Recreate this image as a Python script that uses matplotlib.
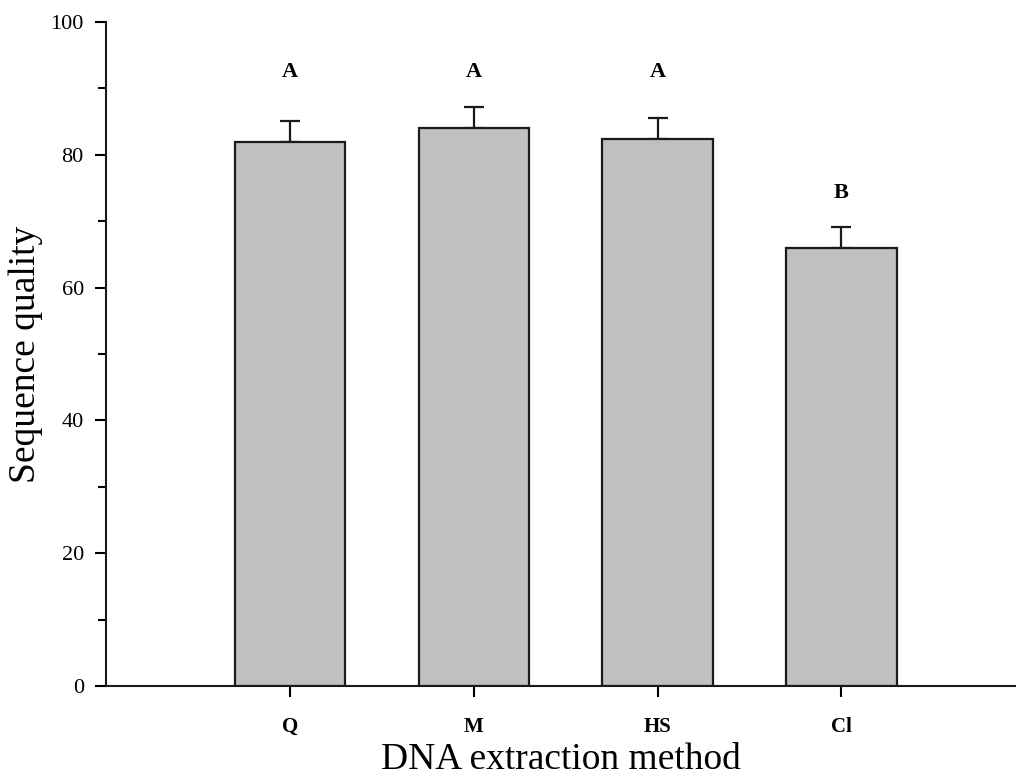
import matplotlib
matplotlib.use("Agg")
import matplotlib.pyplot as plt
import numpy as np

plt.rcParams['font.family'] = ['Liberation Serif', 'DejaVu Serif']

methods = ["Q", "M", "HS", "Cl"]
quality = [82.0, 84.1, 82.4, 66.0]
quality_err = [3.1, 3.1, 3.1, 3.1]
groups = ["A", "A", "A", "B"]

fig = plt.figure(figsize=(10.16, 7.8), dpi=100)
ax = fig.add_axes([106/1016, (780-686)/780, (1016-106)/1016, (686-22)/780])

x = np.arange(1, len(methods) + 1)
ax.bar(x, quality, width=0.6, color="#c0c0c0", edgecolor="#1a1a1a", linewidth=1.6, zorder=2)
ax.errorbar(x, quality, yerr=[np.zeros(len(quality)), quality_err], fmt="none",
            ecolor="#1a1a1a", elinewidth=1.6, capsize=7, capthick=1.6, zorder=1)

# significance letters: same height within a group
tops = np.array(quality) + np.array(quality_err)
for g in sorted(set(groups)):
    idx = [i for i, gg in enumerate(groups) if gg == g]
    ytxt = tops[idx].max() + 5.2
    for i in idx:
        ax.text(x[i], ytxt, g, ha="center", va="center", fontsize=16, fontweight="bold")

ax.set_xlim(0, 4.95)
ax.set_ylim(0, 100)
ax.set_xticks(x)
ax.set_xticklabels(methods, fontsize=15, fontweight="bold")
ax.set_yticks(np.arange(0, 101, 20))
ax.set_yticks(np.arange(10, 100, 20), minor=True)
ax.tick_params(axis="y", which="major", length=8, width=1.5, labelsize=16, pad=8)
ax.tick_params(axis="y", which="minor", length=6, width=1.5)
ax.tick_params(axis="x", which="major", length=8, width=1.5, pad=14)

for s in ["top", "right"]:
    ax.spines[s].set_visible(False)
for s in ["left", "bottom"]:
    ax.spines[s].set_linewidth(1.5)
    ax.spines[s].set_color("#1a1a1a")

ax.set_xlabel("DNA extraction method", fontsize=27, labelpad=4)
ax.set_ylabel("Sequence quality", fontsize=27, labelpad=5)

fig.savefig("out.png", dpi=100)
